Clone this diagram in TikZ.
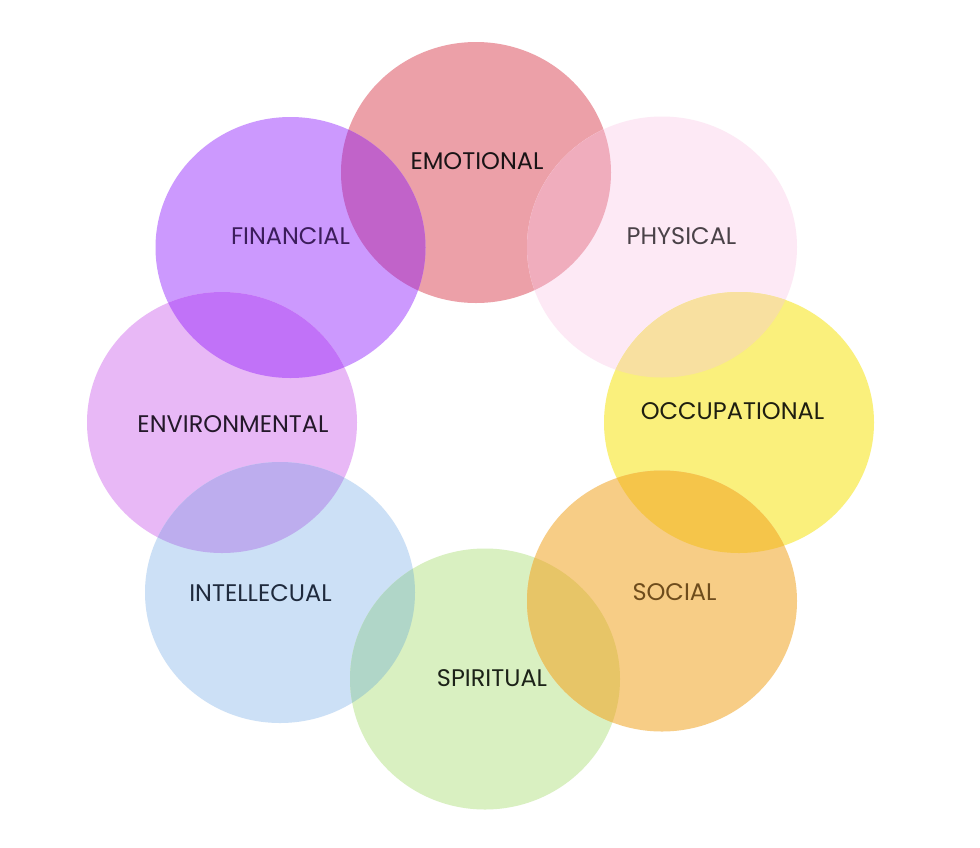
\documentclass[tikz,border=0pt]{standalone}
\usepackage{fontspec}
\setmainfont{Poppins}
\definecolor{emoC}{HTML}{ECA0A8}
\definecolor{phyC}{HTML}{FDE9F5}
\definecolor{finC}{HTML}{CC99FE}
\definecolor{envC}{HTML}{E8B8F6}
\definecolor{intC}{HTML}{CCE0F6}
\definecolor{spiC}{HTML}{D9F0C1}
\definecolor{socC}{HTML}{F7CD86}
\definecolor{occC}{HTML}{FAF07C}
\definecolor{emophy}{HTML}{F0ADBD}
\definecolor{emofin}{HTML}{C163C9}
\definecolor{finenv}{HTML}{C172F8}
\definecolor{envint}{HTML}{BDADEE}
\definecolor{intspi}{HTML}{B0D6C8}
\definecolor{spisoc}{HTML}{E7C567}
\definecolor{sococc}{HTML}{F5C54A}
\definecolor{occphy}{HTML}{F8E0A0}
\definecolor{tEmo}{HTML}{1A1416}
\definecolor{tFin}{HTML}{3C1D5C}
\definecolor{tPhy}{HTML}{4A4248}
\definecolor{tEnv}{HTML}{24182A}
\definecolor{tOcc}{HTML}{1E1E10}
\definecolor{tInt}{HTML}{1F2A3D}
\definecolor{tSpi}{HTML}{1C2218}
\definecolor{tSoc}{HTML}{6E4C1C}
\begin{document}
\begin{tikzpicture}[x=1pt,y=-1pt,
  lbl/.style={anchor=base,inner sep=0pt,font=\fontsize{24}{24}\selectfont}]
\useasboundingbox (0,0) rectangle (980,847);
\fill[white] (0,0) rectangle (980,847);
\def\rx{135}\def\ry{130.5}
\coordinate (emo) at (476,172.5);
\coordinate (phy) at (662,247);
\coordinate (fin) at (290.5,247.5);
\coordinate (env) at (222,422.5);
\coordinate (occ) at (739,422.5);
\coordinate (int) at (280,592.5);
\coordinate (spi) at (485,679);
\coordinate (soc) at (662,601);
% base discs
\foreach \c in {emo,phy,fin,env,occ,int,spi,soc}
  \fill[\c C] (\c) ellipse [x radius=\rx, y radius=\ry];
% overlaps
\foreach \a/\b/\col in {emo/phy/emophy,emo/fin/emofin,fin/env/finenv,env/int/envint,
                        int/spi/intspi,spi/soc/spisoc,soc/occ/sococc,occ/phy/occphy}{
  \begin{scope}
    \clip (\a) ellipse [x radius=\rx, y radius=\ry];
    \fill[\col] (\b) ellipse [x radius=\rx, y radius=\ry];
  \end{scope}
}
% labels
\node[lbl,text=tEmo] (lEmo) at (477,169) {EMOTIONAL};
\node[lbl,text=tFin] (lFin) at (290.5,244) {FINANCIAL};
\node[lbl,text=tPhy] (lPhy) at (681.5,244) {PHYSICAL};
\node[lbl,text=tEnv] (lEnv) at (233,432) {ENVIRONMENTAL};
\node[lbl,text=tOcc] (lOcc) at (732.5,419.5) {OCCUPATIONAL};
\node[lbl,text=tInt] (lInt) at (260.5,601) {INTELLECUAL};
\node[lbl,text=tSpi] (lSpi) at (492,686.5) {SPIRITUAL};
\node[lbl,text=tSoc] (lSoc) at (674.5,600) {SOCIAL};
\end{tikzpicture}
\end{document}
